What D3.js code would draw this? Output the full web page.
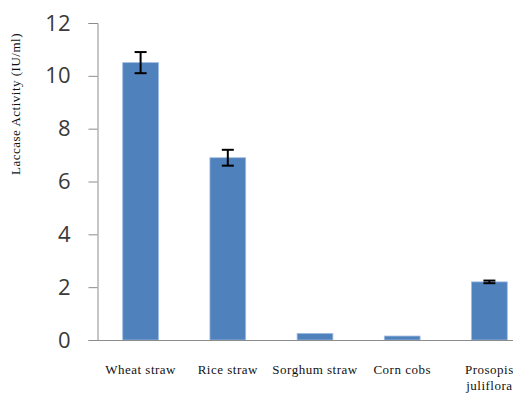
<!DOCTYPE html>
<html>
<head>
<meta charset="utf-8">
<script src="https://cdn.jsdelivr.net/npm/d3@7"></script>
<style>
  html, body { margin: 0; padding: 0; background: #fff; }
  svg { display: block; }
</style>
</head>
<body>
<svg id="chart" width="513" height="394"></svg>
<script>
// Laccase activity by lignocellulosic substrate
const substrates = ["Wheat straw", "Rice straw", "Sorghum straw", "Corn cobs", "Prosopis juliflora"];
const activity = [10.5, 6.9, 0.25, 0.15, 2.2];
const errors = [0.4, 0.3, 0, 0, 0.05];
const yTicks = [0, 2, 4, 6, 8, 10, 12];

const svg = d3.select("#chart");
const plotLeft = 97, plotTop = 23, plotBottom = 340, plotRight = 533;

const x = d3.scaleBand().domain(substrates).range([plotLeft, plotRight]).paddingInner(0.59).paddingOuter(0.295);
const y = d3.scaleLinear().domain([0, 12]).range([plotBottom, plotTop]);

// y axis
const yAxis = svg.append("g")
  .attr("transform", `translate(${plotLeft + 0.5},0)`)
  .call(d3.axisLeft(y).tickValues(yTicks).tickSize(9).tickPadding(18));
yAxis.select(".domain").attr("stroke", "#8c8c8c");
yAxis.selectAll(".tick line").attr("stroke", "#8c8c8c");
yAxis.selectAll(".tick text")
  .attr("font-family", "'Open Sans', sans-serif")
  .attr("font-size", 22)
  .attr("fill", "#3a3a3a");

// bars
svg.append("g").selectAll("rect")
  .data(substrates)
  .join("rect")
  .attr("x", d => x(d))
  .attr("width", x.bandwidth())
  .attr("y", (d, i) => y(activity[i]))
  .attr("height", (d, i) => y(0) - y(activity[i]))
  .attr("fill", "#4f81bd")
  .attr("stroke", "#9fbbe0")
  .attr("stroke-width", 0.8);

// x axis baseline
svg.append("line")
  .attr("x1", plotLeft).attr("x2", plotRight)
  .attr("y1", plotBottom + 0.5).attr("y2", plotBottom + 0.5)
  .attr("stroke", "#8c8c8c");

// error bars
const eb = svg.append("g").attr("stroke", "#000").attr("stroke-width", 2);
substrates.forEach((d, i) => {
  if (!errors[i]) return;
  const cx = x(d) + x.bandwidth() / 2;
  const y1 = y(activity[i] + errors[i]), y2 = y(activity[i] - errors[i]);
  eb.append("line").attr("x1", cx).attr("x2", cx).attr("y1", y1).attr("y2", y2);
  eb.append("line").attr("x1", cx - 6).attr("x2", cx + 6).attr("y1", y1).attr("y2", y1);
  eb.append("line").attr("x1", cx - 6).attr("x2", cx + 6).attr("y1", y2).attr("y2", y2);
});

// category labels
const xl = svg.append("g")
  .attr("font-family", "'Liberation Serif', 'Times New Roman', serif")
  .attr("font-size", 13)
  .attr("fill", "#111")
  .attr("text-anchor", "middle");
substrates.forEach(d => {
  const cx = x(d) + x.bandwidth() / 2;
  const lines = d === "Prosopis juliflora" ? ["Prosopis", "juliflora"] : [d];
  lines.forEach((t, k) => {
    xl.append("text").attr("x", cx).attr("y", 374 + k * 16).attr("letter-spacing", 0.5).text(t);
  });
});

// y axis title
svg.append("text")
  .attr("transform", "translate(20,104) rotate(-90)")
  .attr("text-anchor", "middle")
  .attr("font-family", "'Liberation Serif', 'Times New Roman', serif")
  .attr("font-size", 13)
  .attr("fill", "#111")
  .attr("letter-spacing", 0.5)
  .text("Laccase Activity (IU/ml)");
</script>
</body>
</html>
